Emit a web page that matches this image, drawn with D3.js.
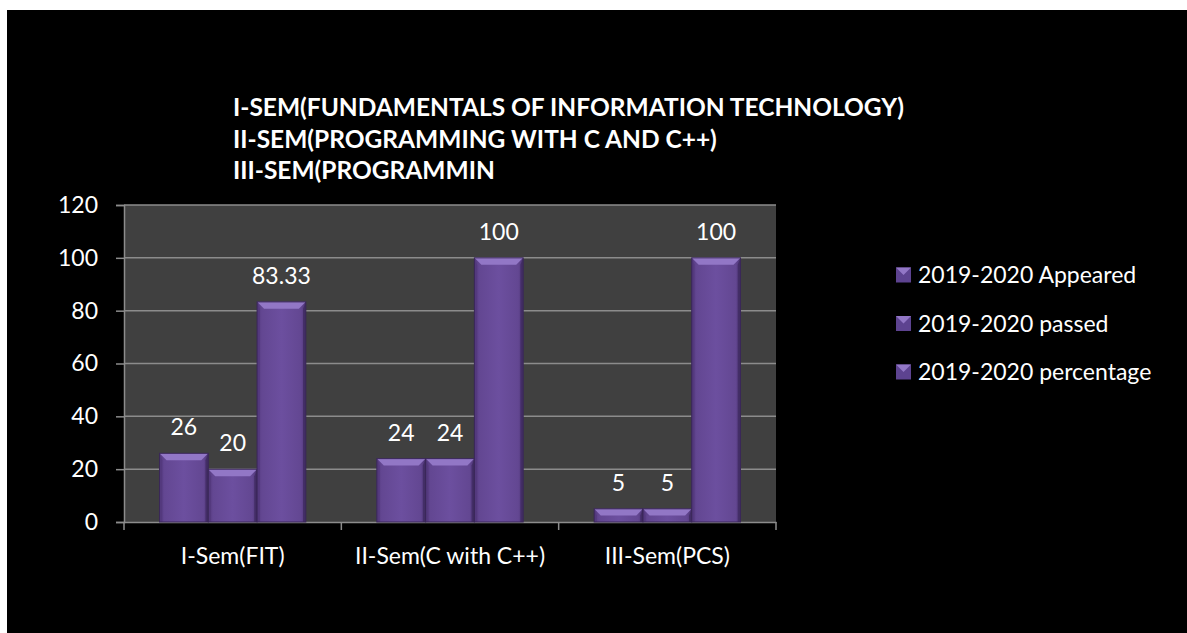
<!DOCTYPE html>
<html><head><meta charset="utf-8">
<script src="https://cdn.jsdelivr.net/npm/d3@7"></script>
<style>html,body{margin:0;padding:0;background:#fff;}svg{display:block;}</style>
</head><body>
<svg id="c" width="1187" height="633"></svg>
<script>
const categories = ["I-Sem(FIT)", "II-Sem(C with C++)", "III-Sem(PCS)"];
const seriesNames = ["2019-2020 Appeared", "2019-2020 passed", "2019-2020 percentage"];
const appeared = [26, 24, 5];
const passed = [20, 24, 5];
const percentage = [83.33, 100, 100];
const labels = [["26","20","83.33"],["24","24","100"],["5","5","100"]];
const yTicks = [0, 20, 40, 60, 80, 100, 120];
const titleLines = ["I-SEM(FUNDAMENTALS OF INFORMATION TECHNOLOGY)", "II-SEM(PROGRAMMING WITH C AND C++)", "III-SEM(PROGRAMMIN"];

const font = "Lato, 'Open Sans', sans-serif";
const fs = 23;
const svg = d3.select("#c");
svg.append("rect").attr("x", 7).attr("y", 10).attr("width", 1180).attr("height", 623).attr("fill", "#000");

const L = 124, R = 776, T = 205, B = 522;
const x0 = d3.scaleBand().domain(categories).range([L, R]).paddingInner(0).paddingOuter(0);
const y = d3.scaleLinear().domain([0, 120]).range([B, T]);

svg.append("rect").attr("x", L).attr("y", T).attr("width", R - L).attr("height", B - T).attr("fill", "#404040");

// gridlines
svg.append("g").selectAll("line").data(yTicks.slice(1)).join("line")
  .attr("x1", L).attr("x2", R).attr("y1", d => y(d)).attr("y2", d => y(d))
  .attr("stroke", "#8c8c8c").attr("stroke-width", 1.5);

// y axis
const yAxis = svg.append("g").attr("transform", `translate(${L},0)`)
  .call(d3.axisLeft(y).tickValues(yTicks).tickSize(8).tickPadding(18));
yAxis.select(".domain").attr("stroke", "#8c8c8c").attr("stroke-width", 1.5);
yAxis.selectAll(".tick line").attr("stroke", "#8c8c8c").attr("stroke-width", 1.5);
yAxis.selectAll("text").attr("fill", "#fff").attr("font-size", fs).attr("font-family", font);

// x axis
const xAxis = svg.append("g").attr("transform", `translate(0,${B})`)
  .call(d3.axisBottom(x0).tickSize(0).tickPadding(26));
xAxis.select(".domain").attr("stroke", "#8c8c8c").attr("stroke-width", 1.5);
xAxis.selectAll("text").attr("fill", "#fff").attr("font-size", fs).attr("font-family", font);
svg.append("g").selectAll("line").data(d3.range(categories.length + 1)).join("line")
  .attr("x1", i => L + i * x0.bandwidth()).attr("x2", i => L + i * x0.bandwidth())
  .attr("y1", B).attr("y2", B + 8).attr("stroke", "#8c8c8c").attr("stroke-width", 1.5);

// gradients
const defs = svg.append("defs");
const g1 = defs.append("linearGradient").attr("id", "barg").attr("x1", 0).attr("x2", 1).attr("y1", 0).attr("y2", 0);
g1.append("stop").attr("offset", 0).attr("stop-color", "#54397f");
g1.append("stop").attr("offset", 0.1).attr("stop-color", "#634792");
g1.append("stop").attr("offset", 0.5).attr("stop-color", "#6c4f9f");
g1.append("stop").attr("offset", 0.9).attr("stop-color", "#634792");
g1.append("stop").attr("offset", 1).attr("stop-color", "#4d3475");

const rows = categories.map((c, i) => ({cat: c, vals: [appeared[i], passed[i], percentage[i]], labs: labels[i]}));
const bev = 7;
function drawBar(g, bx, bw, v) {
  const yt = y(v), h = B - yt;
  g.append("rect").attr("x", bx).attr("y", yt).attr("width", bw).attr("height", h).attr("fill", "url(#barg)");
  const b = Math.min(bev, h / 2);
  g.append("polygon").attr("points", `${bx},${yt} ${bx + bw},${yt} ${bx + bw - b},${yt + b} ${bx + b},${yt + b}`).attr("fill", "#9277c6");
  g.append("polygon").attr("points", `${bx},${yt} ${bx + b * 0.4},${yt + b} ${bx + b * 0.4},${B} ${bx},${B}`).attr("fill", "#52387c").attr("opacity", 0.8);
  g.append("polygon").attr("points", `${bx + bw},${yt} ${bx + bw - b * 0.4},${yt + b} ${bx + bw - b * 0.4},${B} ${bx + bw},${B}`).attr("fill", "#3f2a60").attr("opacity", 0.8);
  g.append("rect").attr("x", bx).attr("y", yt).attr("width", bw).attr("height", h).attr("fill", "none").attr("stroke", "#3a2758").attr("stroke-width", 1);
}

const groupPad = 35.5;
const xs = d3.scaleBand().domain(seriesNames).range([groupPad, x0.bandwidth() - groupPad]).padding(0);
rows.forEach(r => {
  const g = svg.append("g").attr("transform", `translate(${x0(r.cat)},0)`);
  r.vals.forEach((v, j) => {
    drawBar(g, xs(seriesNames[j]), xs.bandwidth(), v);
    g.append("text").attr("x", xs(seriesNames[j]) + xs.bandwidth() / 2).attr("y", y(v) - 18)
      .attr("text-anchor", "middle").attr("fill", "#fff").attr("font-size", fs).attr("font-family", font)
      .text(r.labs[j]);
  });
});

// title
svg.append("g").selectAll("text").data(titleLines).join("text")
  .attr("x", 233).attr("y", (d, i) => 116 + i * 31.5)
  .attr("fill", "#fff").attr("font-weight", "bold").attr("font-size", 24.5).attr("font-family", font)
  .text(d => d);

// legend
const lg = svg.append("g").selectAll("g").data(seriesNames).join("g")
  .attr("transform", (d, i) => `translate(896,${275 + i * 48.5})`);
lg.append("rect").attr("x", 0).attr("y", -7.5).attr("width", 15).attr("height", 15).attr("fill", "#5d4390");
lg.append("polygon").attr("points", "0,-7.5 15,-7.5 7.5,0").attr("fill", "#9277c6");
lg.append("text").attr("x", 22).attr("y", 0).attr("dy", "0.35em").attr("fill", "#fff")
  .attr("font-size", fs).attr("font-family", font).text(d => d);
</script>
</body></html>
